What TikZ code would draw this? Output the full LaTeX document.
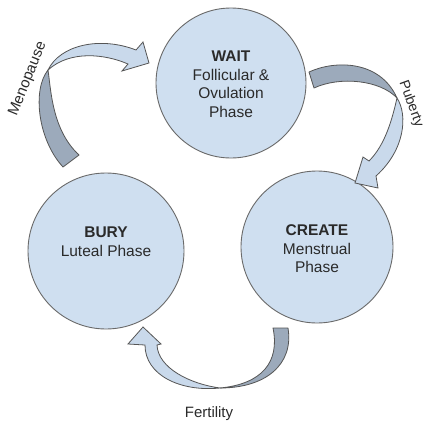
\documentclass[tikz,border=0pt]{standalone}
\usepackage{fontspec}
\setmainfont{Liberation Sans}

\definecolor{phasefill}{HTML}{CFDFF0}
\definecolor{circleline}{HTML}{6A6A6A}
\definecolor{arrowlight}{HTML}{C9D9EB}
\definecolor{arrowdark}{HTML}{9CAABB}
\definecolor{arrowline}{HTML}{555555}
\definecolor{textgray}{HTML}{2A2A2A}

\tikzset{
  phase/.style={circle, draw=circleline, fill=phasefill, line width=0.9pt, inner sep=0pt},
  phasetext/.style={align=center, text=textgray, font=\fontsize{15.5}{18.5}\selectfont},
  turnlabel/.style={text=textgray, font=\fontsize{15}{18}\selectfont},
  backside/.style={fill=arrowdark, draw=arrowline, line width=0.8pt, line join=round},
  frontside/.style={fill=arrowlight, draw=arrowline, line width=0.8pt, line join=miter},
}

\begin{document}
\begin{tikzpicture}[x=1pt, y=-1pt]

    \fill[white] (0,0) rectangle (425,423);
    \useasboundingbox (0,0) rectangle (425,423);

    % the three phases
    \node[phase, minimum size=150pt] (wait) at (231,83) {};
    \node[phase, minimum size=156pt] (bury) at (106,251) {};
    \node[phase, minimum size=152pt] (create) at (317,247) {};

    \node[phasetext] (waittxt) at (231,84) {\textbf{WAIT}\\Follicular \&\\Ovulation\\Phase};
    \node[phasetext] (burytxt) at (106,241.5) {\textbf{BURY}\\Luteal Phase};
    \node[phasetext] (createtxt) at (317,249) {\textbf{CREATE}\\Menstrual\\Phase};

    % bury -> wait
    \draw[backside] (63,167) .. controls (38,140) and (32,90) .. (48,70)
        .. controls (51,90) and (52,130) .. (79,155) -- cycle;
    \draw[frontside] (48,70) .. controls (60,45) and (100,36) .. (136,50)
        -- (143,42) -- (149,63) -- (122,71) -- (128,64)
        .. controls (105,54) and (70,50) .. (48,70) -- cycle;

    % wait -> create
    \draw[backside] (309,72) .. controls (335,60) and (380,60) .. (397,98)
        .. controls (380,80) and (340,76) .. (314,88) -- cycle;
    \draw[frontside] (397,98) .. controls (408,115) and (405,150) .. (376,176)
        -- (378,188) -- (355,183) -- (363,157) -- (369,161)
        .. controls (385,145) and (392,120) .. (397,98) -- cycle;

    % create -> bury
    \draw[backside] (288,328) .. controls (294,365) and (265,388) .. (220,388)
        .. controls (262,384) and (280,362) .. (273,328) -- cycle;
    \draw[frontside] (220,388) .. controls (180,392) and (145,375) .. (145,345)
        -- (128,344) -- (143,327) -- (161,344) -- (157,345)
        .. controls (158,368) and (190,384) .. (220,388) -- cycle;

    \node[turnlabel, rotate=68] (menopause) at (28,79) {Menopause};
    \node[turnlabel, rotate=-70, font=\fontsize{14}{16}\selectfont] (puberty) at (411,104) {Puberty};
    \node[turnlabel] (fertility) at (209,414) {Fertility};

\end{tikzpicture}
\end{document}
